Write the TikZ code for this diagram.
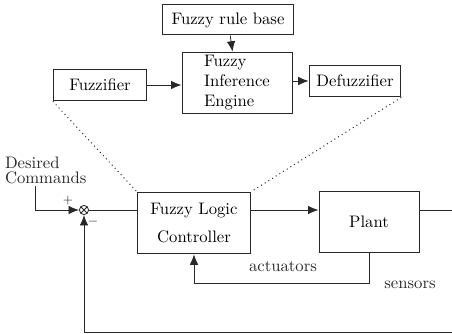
\documentclass[tikz,border=0pt]{standalone}
\usepackage{amsmath,amssymb}
\usepackage{xcolor}
\usepackage{tikz}
\usetikzlibrary{arrows.meta,positioning,calc}
\definecolor{ink}{RGB}{40,40,40}
\tikzset{
  blk/.style  ={rectangle, draw=ink, fill=white, align=center, inner sep=2pt,
                font=\normalsize, line width=0.6pt},
  ar/.style   ={-{Latex[length=2.2mm,width=1.8mm]}, draw=ink, line width=0.5pt},
  ln/.style   ={draw=ink, line width=0.5pt},
  dot/.style  ={draw=ink, dotted, line width=0.6pt},
  lbl/.style  ={font=\normalsize, text=ink, inner sep=1pt},
  summer/.style={circle, draw=ink, line width=0.5pt, inner sep=0pt, minimum size=5.5pt,
                 path picture={\draw[ink,line width=0.5pt]
                   (path picture bounding box.north west) -- (path picture bounding box.south east)
                   (path picture bounding box.north east) -- (path picture bounding box.south west);}}
}

\begin{document}
\begin{tikzpicture}[x=0.6pt,y=-0.6pt]
\useasboundingbox (0,0) rectangle (452,334);

% fuzzy controller internals
\node[blk, minimum width=79pt, minimum height=18pt] (rules) at (228,20) {Fuzzy rule base};
\node[blk, minimum width=56pt, minimum height=19pt] (fuzz) at (100,85) {Fuzzifier};
\node[blk, minimum width=66pt, minimum height=37pt, align=left] (fie) at (237,83)
  {Fuzzy\\Inference\\Engine};
\node[blk, minimum width=55pt, minimum height=19pt] (defuzz) at (355,81) {Defuzzifier};
\draw[ar] (rules) -- (fie);
\draw[ar] (fuzz.east) -- (fuzz.east -| fie.west);
\draw[ar] (fie.east |- defuzz) -- (defuzz.west);

% control loop
\node[blk, minimum width=68pt, minimum height=37pt] (flc) at (194,223)
  {Fuzzy Logic\\[5pt]Controller};
\node[blk, minimum width=60pt, minimum height=37pt] (plant) at (369,222) {Plant};
\node[summer] (sum) at (84,210) {};
\node[lbl, align=left, anchor=north west] (cmd) at (3,155) {Desired\\[-3pt]Commands};
\node[lbl, font=\scriptsize] (plus) at (68,201) {+};
\node[lbl, font=\scriptsize] (minus) at (93,222) {$-$};
\node[lbl] (act) at (283,266) {actuators};
\node[lbl] (sens) at (410,285) {sensors};
\coordinate (out) at (452,210);
\coordinate (fb) at (452,332);

\draw[dot] (fuzz.south west) -- (flc.north west);
\draw[dot] (defuzz.south east) -- (flc.north east);

\draw[ar] (35,186) |- (sum.west);
\draw[ln] (sum.east) -- (sum -| flc.west);
\draw[ar] (flc.east |- sum) -- (plant.west |- sum);
\draw[ln] (plant.east |- sum) -- (out);
\draw[ar] (plant.south) -- ++(0,30) -| (flc.south);
\draw[ar] (fb) -| (sum.south);
\end{tikzpicture}
\end{document}
